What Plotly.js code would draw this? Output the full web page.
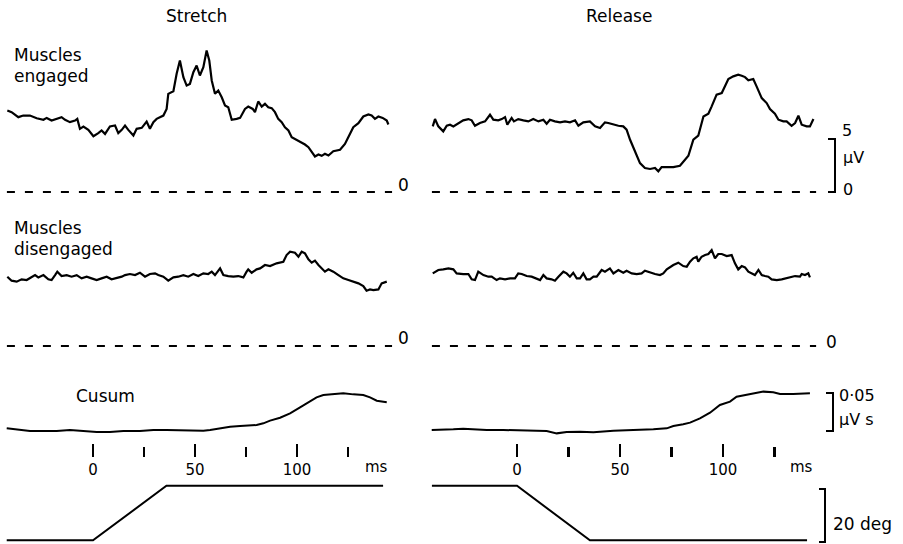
<!DOCTYPE html>
<html><head><meta charset="utf-8">
<script src="https://cdn.plot.ly/plotly-3.0.1.min.js"></script>
<style>html,body{margin:0;padding:0;background:#fff;}#chart{width:903px;height:544px;}</style>
</head><body><div id="chart"></div>
<script>
// ---------------- DATA (time in ms, EMG in µV, cusum in µV·s, angle in deg) ----------------
const stretchEngagedT = [-42.0,-39.9,-36.6,-34.2,-30.9,-27.6,-24.3,-22.7,-20.3,-17.8,-15.4,-13.7,-11.3,-8.8,-7.7,-6.4,-4.7,-2.3,0.2,2.6,4.2,5.9,8.3,10.8,12.4,14.1,15.7,17.3,19.8,21.4,23.9,26.3,27.9,29.6,31.2,34.5,36.1,36.9,39.4,41.0,42.6,44.3,45.9,47.5,49.2,50.8,52.4,54.1,55.7,57.0,58.2,59.8,61.4,63.1,64.7,66.3,68.0,70.4,72.1,74.5,76.1,78.3,79.4,81.0,82.7,84.3,85.9,87.6,89.2,90.8,92.5,94.1,95.8,97.4,99.8,101.5,103.9,105.6,107.2,108.8,110.5,112.1,113.7,115.4,117.8,121.1,123.5,125.2,127.6,130.1,132.5,135.0,136.6,138.2,139.9,142.0,144.0,144.8];
const stretchEngagedUV = [7.69,7.53,7.06,7.21,7.21,6.96,6.81,6.99,6.74,6.90,7.06,6.81,6.59,6.74,6.90,5.96,6.18,5.86,5.26,5.55,5.80,5.48,6.18,6.27,5.55,5.86,6.27,5.86,5.33,5.96,6.05,6.65,5.96,6.59,6.90,7.21,7.84,9.26,9.51,11.15,12.40,10.83,10.04,10.20,11.30,11.93,10.99,11.77,13.35,12.40,10.52,9.26,9.57,8.94,8.16,8.00,6.81,6.90,6.99,7.84,8.06,7.84,7.53,8.54,8.06,8.32,8.00,7.91,7.53,6.90,6.59,6.11,5.80,5.17,4.92,4.70,4.48,4.23,3.76,3.35,3.54,3.41,3.60,3.44,3.85,3.98,4.54,5.17,6.11,6.49,7.12,7.31,7.21,6.90,7.12,6.99,6.74,6.37];

const releaseEngagedT = [-40.9,-39.8,-38.2,-35.8,-34.1,-32.5,-30.9,-28.5,-26.1,-23.6,-22.0,-20.4,-18.0,-15.5,-13.1,-11.5,-9.1,-7.4,-5.8,-4.7,-2.6,-1.5,0.6,3.1,5.5,7.9,10.4,12.8,14.4,16.0,18.4,20.9,23.3,25.7,28.2,29.8,32.2,35.4,37.9,40.3,42.7,44.3,46.8,49.2,51.6,53.2,54.9,57.3,59.7,62.1,64.6,67.0,68.6,70.2,72.7,75.9,79.1,81.6,83.2,85.6,88.0,90.5,92.9,94.5,96.9,99.4,101.0,102.6,105.0,107.4,109.1,110.7,112.3,114.7,116.3,118.8,121.2,122.8,125.2,126.9,129.3,130.9,133.3,135.0,136.6,138.2,140.6,142.2,143.9];
const releaseEngagedUV = [6.19,6.88,6.19,5.72,6.25,6.35,6.19,6.51,6.76,6.88,6.76,6.25,6.51,6.66,7.29,6.82,6.76,6.88,7.07,6.35,6.98,6.66,6.88,6.76,6.66,6.88,6.66,6.82,6.44,6.82,6.66,6.57,6.66,6.57,6.76,6.25,6.57,6.66,6.19,6.03,6.57,6.51,6.35,6.25,6.19,5.88,4.93,3.83,2.73,2.26,2.17,2.26,1.95,2.35,2.35,2.35,2.48,3.05,3.42,4.93,5.31,7.13,7.39,8.08,9.18,9.34,9.96,10.66,10.91,11.06,10.97,10.84,10.53,10.66,9.96,8.86,8.39,7.83,7.39,6.82,6.66,6.66,6.25,6.51,7.20,6.35,6.19,6.19,6.88];

const stretchDisengagedT = [-42.0,-39.9,-37.4,-35.0,-32.5,-30.1,-28.4,-26.8,-24.3,-21.9,-20.3,-18.6,-17.5,-15.4,-12.9,-10.5,-8.0,-5.6,-3.1,-0.7,1.8,4.2,6.7,9.1,11.6,14.1,15.7,18.1,20.6,23.0,25.5,27.9,30.4,32.0,34.5,36.9,39.4,41.8,44.3,46.7,49.2,51.6,54.1,56.5,58.2,59.8,62.3,63.9,66.3,68.8,71.2,73.7,75.3,76.1,77.8,80.2,81.9,84.3,86.8,90.0,93.3,94.9,96.6,99.0,100.7,102.3,103.9,105.6,107.2,108.8,110.5,112.1,113.7,115.4,117.8,120.3,122.7,125.2,127.6,130.1,132.5,134.1,135.8,137.4,139.9,141.5,144.0];
const stretchDisengagedUV = [6.54,6.16,6.07,6.29,6.22,6.54,6.69,6.47,6.69,6.29,6.22,6.69,7.01,6.60,6.69,6.54,6.69,6.38,6.54,6.38,6.22,6.38,6.54,6.29,6.38,6.54,6.69,6.79,6.69,6.91,6.54,6.79,6.85,6.69,6.54,6.16,6.47,6.54,6.69,6.54,6.79,6.60,6.85,6.79,7.01,6.69,7.32,6.69,6.60,6.54,6.60,6.47,7.01,7.23,6.91,7.23,7.32,7.64,7.54,7.80,7.95,8.58,8.90,8.80,8.42,8.90,8.74,8.17,7.86,8.05,7.64,7.32,7.01,7.23,7.01,6.69,6.38,6.22,6.07,5.91,5.66,5.22,5.34,5.28,5.34,5.91,6.07];

const releaseDisengagedT = [-40.9,-39.8,-38.2,-35.8,-33.3,-30.9,-29.3,-26.1,-23.6,-22.0,-20.4,-18.8,-16.3,-13.9,-12.3,-9.9,-8.3,-5.8,-3.4,-1.0,0.6,2.3,4.7,7.1,9.5,11.2,12.8,14.4,16.8,18.4,20.1,22.5,24.1,25.7,27.3,29.0,30.6,32.2,33.8,35.4,37.1,38.7,41.1,42.7,45.1,46.8,49.2,51.6,53.2,55.7,58.1,60.5,62.1,64.6,67.0,69.4,71.0,72.7,75.9,78.3,80.7,82.4,84.0,85.6,87.2,88.0,89.6,91.3,92.9,94.5,96.1,97.7,99.4,101.8,104.2,105.8,107.4,109.1,110.7,112.3,113.9,115.5,117.2,118.8,120.4,122.0,123.6,126.1,128.5,130.1,132.5,135.0,137.4,138.2,139.8,141.4,142.2];
const releaseDisengagedUV = [6.85,7.01,7.17,7.23,7.32,7.23,6.85,6.79,6.79,6.29,6.22,7.01,6.69,6.54,6.54,6.22,6.38,6.29,6.38,6.38,6.85,6.79,6.60,6.54,6.38,6.22,6.69,6.38,6.29,6.16,6.54,7.01,6.85,6.54,6.91,6.38,6.38,6.85,6.29,6.29,6.54,6.54,7.17,7.01,7.32,6.85,7.17,6.91,7.10,6.85,6.79,6.85,7.10,6.91,6.79,6.69,6.85,7.23,7.64,7.86,7.54,7.48,7.95,8.27,8.42,7.95,8.42,8.58,8.68,9.05,8.27,8.68,8.68,8.49,8.58,7.80,7.23,7.54,7.42,7.01,6.85,6.69,7.17,6.69,6.60,6.54,6.29,6.22,6.29,6.38,6.47,6.60,6.54,6.79,6.69,6.85,6.47];

const stretchCusumT = [-42.3,-37.4,-30.9,-24.3,-17.8,-11.3,-6.4,1.8,8.3,14.9,23.0,29.6,36.1,42.6,49.2,54.1,57.4,62.3,67.2,72.1,80.2,83.5,86.8,91.7,96.6,101.5,106.4,109.6,112.9,117.8,122.7,127.6,132.5,135.8,139.1,144.0];
const stretchCusumUVs = [0.0035,0.0022,0.0,0.0,0.0,0.0013,0.0,-0.0013,-0.0013,0.0,0.0,0.0013,0.0013,0.0009,0.0009,0.0004,0.0013,0.0035,0.0057,0.0066,0.0079,0.0101,0.0136,0.0175,0.0232,0.0311,0.0386,0.0443,0.0474,0.0487,0.0496,0.0482,0.0474,0.0443,0.0399,0.0377];

const releaseCusumT = [-41.4,-35.8,-30.9,-26.1,-21.2,-14.7,-6.6,1.5,9.5,14.4,17.6,19.3,24.1,30.6,37.1,40.3,46.8,53.2,59.7,66.2,72.7,75.9,80.7,84.0,88.8,93.7,98.5,103.4,106.6,111.5,116.3,119.6,124.4,127.7,134.1,142.2];
const releaseCusumUVs = [0.0013,0.0013,0.0022,0.0031,0.0022,0.0013,0.0013,0.0013,0.0004,0.0,-0.0022,-0.0031,-0.0013,-0.0009,-0.0018,-0.0009,0.0004,0.0009,0.0013,0.0022,0.0035,0.0066,0.0088,0.0110,0.0167,0.0241,0.0342,0.0386,0.0452,0.0474,0.0496,0.0518,0.0509,0.0487,0.0487,0.0496];

const stretchRampT = [-42.3, 0, 36, 142.2];
const stretchRampDeg = [0, 0, 20, 20];
const releaseRampT = [-41.3, 0, 35.4, 140.8];
const releaseRampDeg = [20, 20, 0, 0];

const stretchZeroT = [-42.2, 146.6];
const releaseZeroT = [-41.3, 145.2];
const zeroLevel = [0, 0];

const majorTicks = [0, 50, 100];
const majorTickText = ['0', '50', '100'];
const minorTicks = [25, 75, 125];

// ---------------- LAYOUT HELPERS (pixel geometry) ----------------
const W = 903, H = 544;
const FONT = 'DejaVu Sans, Liberation Sans, Arial, sans-serif';
const PX = v => v / W;
const PY = v => 1 - v / H;

function timeAxis(leftPx, rightPx, zeroPx, pxPerMs) {
  return {
    domain: [PX(leftPx), PX(rightPx)],
    range: [(leftPx - zeroPx) / pxPerMs, (rightPx - zeroPx) / pxPerMs],
    anchor: 'free', position: PY(457), side: 'bottom',
    showgrid: false, zeroline: false, showline: false,
    ticks: 'inside', ticklen: 13, tickwidth: 2.5, tickcolor: '#000',
    tickmode: 'array', tickvals: majorTicks, ticktext: majorTickText,
    tickfont: { family: FONT, size: 15, color: '#000' },
    ticklabelstandoff: 2,
    minor: { tickmode: 'array', tickvals: minorTicks, ticks: 'inside', ticklen: 10, tickwidth: 2.5, tickcolor: '#000', showgrid: false },
    fixedrange: true
  };
}
function rowAxis(topPx, bottomPx, zeroPx, pxPerUnit) {
  return {
    domain: [PY(bottomPx), PY(topPx)],
    range: [(zeroPx - bottomPx) / pxPerUnit, (zeroPx - topPx) / pxPerUnit],
    visible: false, showgrid: false, zeroline: false, anchor: 'x', fixedrange: true
  };
}

const solid = { color: '#000', width: 2.2 };
const dashed = { color: '#000', width: 2, dash: '8px,10px' };
function tr(x, y, xa, ya, line) {
  return { x: x, y: y, xaxis: xa, yaxis: ya, type: 'scatter', mode: 'lines', line: line, hoverinfo: 'skip', showlegend: false };
}

const traces = [
  tr(stretchEngagedT, stretchEngagedUV, 'x', 'y', solid),
  tr(releaseEngagedT, releaseEngagedUV, 'x2', 'y', solid),
  tr(stretchZeroT, zeroLevel, 'x', 'y', dashed),
  tr(releaseZeroT, zeroLevel, 'x2', 'y', dashed),
  tr(stretchDisengagedT, stretchDisengagedUV, 'x', 'y2', solid),
  tr(releaseDisengagedT, releaseDisengagedUV, 'x2', 'y2', solid),
  tr(stretchZeroT, zeroLevel, 'x', 'y2', dashed),
  tr(releaseZeroT, zeroLevel, 'x2', 'y2', dashed),
  tr(stretchCusumT, stretchCusumUVs, 'x', 'y3', { color: '#000', width: 2 }),
  tr(releaseCusumT, releaseCusumUVs, 'x2', 'y3', { color: '#000', width: 2 }),
  tr(stretchRampT, stretchRampDeg, 'x', 'y4', { color: '#000', width: 2 }),
  tr(releaseRampT, releaseRampDeg, 'x2', 'y4', { color: '#000', width: 2 })
];

function ann(text, x, y, size, xanchor) {
  return { text: text, x: PX(x), y: PY(y), xref: 'paper', yref: 'paper', showarrow: false,
    xanchor: xanchor || 'center', yanchor: 'middle', font: { family: FONT, size: size, color: '#000' } };
}
const annotations = [
  ann('Stretch', 196, 16, 17),
  ann('Release', 619, 16, 17),
  ann('Muscles', 12, 55, 17, 'left'),
  ann('engaged', 12, 76, 17, 'left'),
  ann('Muscles', 12, 228, 17, 'left'),
  ann('disengaged', 12, 249, 17, 'left'),
  ann('Cusum', 74, 396, 17, 'left'),
  ann('0', 403.5, 185, 17),
  ann('0', 403.5, 338, 17),
  ann('0', 831, 342, 17),
  ann('5', 840, 130, 16, 'left'),
  ann('\u03BCV', 841, 157, 16, 'left'),
  ann('0', 841, 189, 16, 'left'),
  ann('0\u00B705', 837, 395, 16, 'left'),
  ann('\u03BCV s', 837, 419, 16, 'left'),
  ann('20 deg', 831, 524, 17, 'left'),
  ann('ms', 376, 467, 15),
  ann('ms', 801, 467, 15)
];

function bracket(xPx, topPx, botPx, tickPx) {
  const xa = PX(xPx), xt = PX(xPx - tickPx), yt = PY(topPx), yb = PY(botPx);
  return { type: 'path', xref: 'paper', yref: 'paper',
    path: 'M ' + xt + ',' + yt + ' L ' + xa + ',' + yt + ' L ' + xa + ',' + yb + ' L ' + xt + ',' + yb,
    line: { color: '#000', width: 2 } };
}
const shapes = [
  bracket(835, 139, 192, 7),
  bracket(833, 393, 431, 7),
  bracket(825, 489, 542, 6)
];

const layout = {
  width: W, height: H, margin: { l: 0, r: 0, t: 0, b: 0 },
  paper_bgcolor: '#fff', plot_bgcolor: 'rgba(0,0,0,0)',
  showlegend: false,
  xaxis: timeAxis(0, 415, 93, 2.04),
  xaxis2: timeAxis(415, 903, 517, 2.06),
  yaxis: rowAxis(25, 205, 192, 10.6),
  yaxis2: rowAxis(222, 362, 346, 10.6),
  yaxis3: rowAxis(380, 442, 431, 760),
  yaxis4: rowAxis(476, 544, 540.3, 2.725),
  annotations: annotations,
  shapes: shapes,
  font: { family: FONT, color: '#000' }
};

Plotly.newPlot('chart', traces, layout, { staticPlot: true, displayModeBar: false });
</script>
</body></html>
